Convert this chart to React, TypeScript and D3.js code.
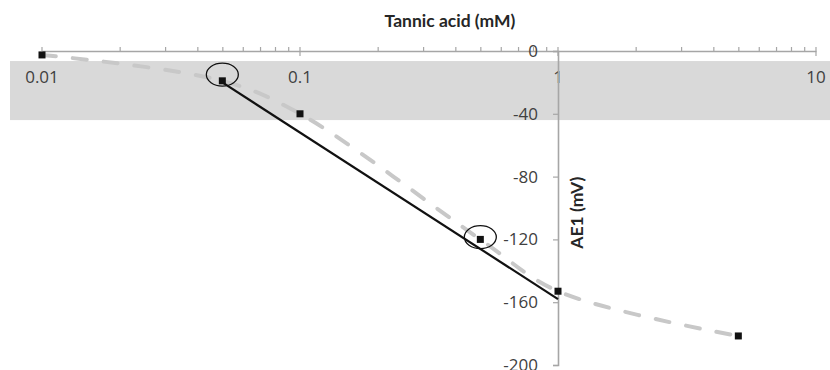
import React, { useRef, useEffect } from 'react';
import * as d3 from 'd3';

// measured points
const conc = [0.01, 0.05, 0.1, 0.5, 1, 5];
const ae1 = [-2.5, -19, -40, -120, -153, -181.5];

// straight fit between 0.05 and 1 mM
const fitConc = [0.05, 1];
const fitAE1 = [-20, -158];

// circled points (ellipse centres)
const circledConc = [0.05, 0.5];
const circledAE1 = [-15, -118.5];

const xMajor = [0.01, 0.1, 1, 10];
const xLabels = ['0.01', '0.1', '1', '10'];
const yTicks = [0, -40, -80, -120, -160, -200];

export default function App() {
  const svgRef = useRef<SVGSVGElement>(null);

  useEffect(() => {
    const svg = d3.select(svgRef.current);
    const width = 830;
    const height = 370;
    svg.attr('viewBox', `0 0 ${width} ${height}`);
    svg.selectAll('*').remove();

    const font = '"Open Sans", Lato, sans-serif';
    const titleFont = 'Lato, "Open Sans", sans-serif';
    const axisColor = '#a6a6a6';
    const textColor = '#404040';

    const x = d3.scaleLog().domain([0.01, 10]).range([42, 816]);
    const y = d3.scaleLinear().domain([0, -200]).range([51, 365]);

    // grey band behind the x labels
    svg.append('rect')
      .attr('x', 10)
      .attr('y', y(-6.4))
      .attr('width', width - 10)
      .attr('height', y(-44) - y(-6.4))
      .attr('fill', '#d9d9d9');

    // x axis (log) along y = 0
    const minor: number[] = [];
    for (let d = 0; d < 3; d++) {
      for (let m = 2; m <= 9; m++) minor.push(xMajor[d] * m);
    }
    const xg = svg.append('g').attr('transform', `translate(0,${y(0)})`);
    xg.call(
      d3.axisTop(x).tickValues(minor).tickSize(4).tickSizeOuter(0).tickFormat(() => '')
    );
    xg.selectAll('.tick line').attr('stroke', axisColor).attr('stroke-width', 1.2);
    xg.select('.domain').attr('stroke', axisColor).attr('stroke-width', 1.6);

    xg.selectAll('line.major')
      .data(xMajor)
      .join('line')
      .attr('class', 'major')
      .attr('x1', d => x(d))
      .attr('x2', d => x(d))
      .attr('y1', -4)
      .attr('y2', d => (d === 0.01 ? 0 : 5))
      .attr('stroke', axisColor)
      .attr('stroke-width', 1.2);

    svg.append('g')
      .selectAll('text')
      .data(xMajor)
      .join('text')
      .attr('x', d => x(d))
      .attr('y', y(0) + 32)
      .attr('text-anchor', 'middle')
      .attr('font-family', font)
      .attr('font-size', 17)
      .attr('fill', textColor)
      .text((d, i) => xLabels[i]);

    // y axis at x = 1
    const yg = svg.append('g').attr('transform', `translate(${x(1)},0)`);
    yg.call(
      d3.axisLeft(y).tickValues(yTicks).tickSize(5).tickSizeOuter(5).tickPadding(15).tickFormat(d3.format('d'))
    );
    yg.select('.domain').attr('stroke', axisColor).attr('stroke-width', 1.6);
    yg.selectAll('.tick line').attr('stroke', axisColor).attr('stroke-width', 1.2);
    yg.selectAll('.tick text')
      .attr('font-family', font)
      .attr('font-size', 17)
      .attr('fill', textColor)
      .text((d: any) => `${d}`.replace('−', '-'));

    // titles
    svg.append('text')
      .attr('x', 450)
      .attr('y', 27)
      .attr('text-anchor', 'middle')
      .attr('font-family', titleFont)
      .attr('font-weight', 'bold')
      .attr('font-size', 17.5)
      .attr('fill', '#262626')
      .text('Tannic acid (mM)');

    svg.append('text')
      .attr('transform', `translate(583,${y(-103)}) rotate(-90)`)
      .attr('text-anchor', 'middle')
      .attr('font-family', titleFont)
      .attr('font-weight', 'bold')
      .attr('font-size', 17.5)
      .attr('fill', '#262626')
      .text('AE1 (mV)');

    const pts = conc.map((c, i) => [c, ae1[i]] as [number, number]);

    // smoothed dashed series
    const smooth = d3.line<[number, number]>()
      .x(d => x(d[0]))
      .y(d => y(d[1]))
      .curve(d3.curveCatmullRom.alpha(0.5));
    svg.append('path')
      .datum(pts)
      .attr('fill', 'none')
      .attr('stroke', '#c8c8c8')
      .attr('stroke-width', 4)
      .attr('stroke-linecap', 'round')
      .attr('stroke-dasharray', '14 17')
      .attr('d', smooth);

    // fit line
    const fit = fitConc.map((c, i) => [c, fitAE1[i]] as [number, number]);
    svg.append('path')
      .datum(fit)
      .attr('fill', 'none')
      .attr('stroke', '#111')
      .attr('stroke-width', 2.2)
      .attr('d', d3.line<[number, number]>().x(d => x(d[0])).y(d => y(d[1])));

    // markers
    svg.append('g')
      .selectAll('rect')
      .data(pts)
      .join('rect')
      .attr('x', d => x(d[0]) - 3.5)
      .attr('y', d => y(d[1]) - 3.5)
      .attr('width', 7)
      .attr('height', 7)
      .attr('fill', '#111');

    // annotation ellipses
    svg.append('g')
      .selectAll('ellipse')
      .data(circledConc)
      .join('ellipse')
      .attr('cx', d => x(d))
      .attr('cy', (d, i) => y(circledAE1[i]))
      .attr('rx', 16)
      .attr('ry', 11.5)
      .attr('fill', 'none')
      .attr('stroke', '#111')
      .attr('stroke-width', 1.3);
  }, []);

  return (
    <svg
      ref={svgRef}
      width={830}
      height={370}
      style={{ position: 'absolute', left: 0, top: 0, display: 'block' }}
    />
  );
}
